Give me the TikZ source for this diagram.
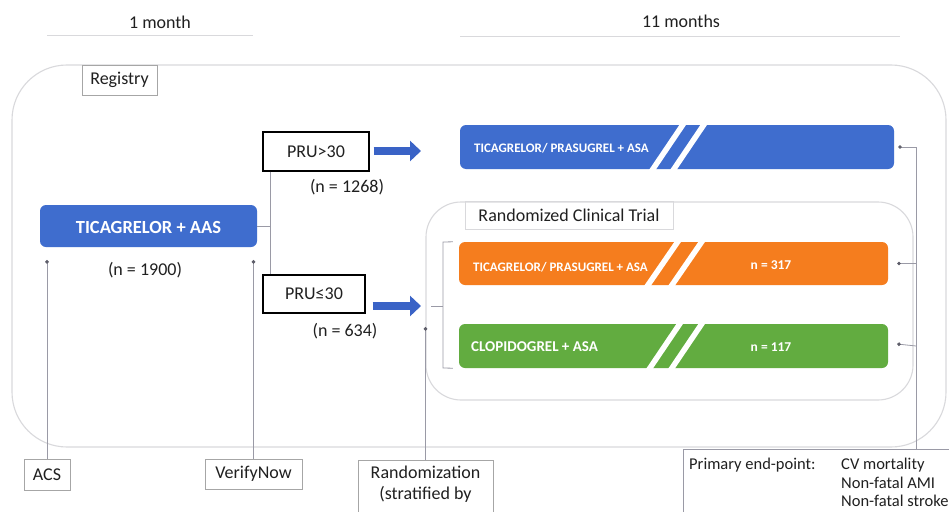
\documentclass[tikz,border=0pt]{standalone}
\usepackage{fontspec}
\setmainfont{Carlito}
\usetikzlibrary{arrows.meta,calc}
\definecolor{barblue}{HTML}{3F6DCE}
\definecolor{arrowblue}{HTML}{3A63C6}
\definecolor{barorange}{HTML}{F57D1E}
\definecolor{bargreen}{HTML}{62AC40}
\definecolor{framegray}{HTML}{D9D9DC}
\definecolor{labgray}{HTML}{A6A6A6}
\definecolor{conngray}{HTML}{9A9AA6}
\definecolor{dotgray}{HTML}{5E5E6A}
\definecolor{textgray}{HTML}{202020}
\tikzset{
  fs/.style={font=\fontsize{#1}{#1}\selectfont},
  frame/.style={draw=framegray, line width=1.1pt},
  lbox/.style={draw=labgray, line width=0.6pt, inner sep=0pt, text=textgray},
  prubox/.style={draw=black, line width=1.2pt, inner sep=0pt, text=textgray},
  bar/.style={rounded corners=6pt, inner sep=0pt, draw=none},
  bartext/.style={text=white, font=\bfseries\fontsize{#1}{#1}\selectfont, inner sep=0pt},
  slash/.style={draw=white, line width=5.5pt},
  conn/.style={draw=conngray, line width=0.8pt},
  dotend/.style={conn, -{Circle[length=3.6pt, fill=dotgray, color=dotgray]}},
  bigarrow/.style={draw=arrowblue, line width=7.5pt, -{Triangle[length=11pt, width=20pt]}},
  plain/.style={text=textgray, inner sep=0pt},
}
\begin{document}
\begin{tikzpicture}[x=1pt, y=-1pt, fs=18]
\clip (0,0) rectangle (949,511);
\fill[white] (0,0) rectangle (949,511);

% timeline
\node[plain] (t1) at (160,22) {1 month};
\node[plain] (t11) at (681,21) {11 months};
\draw[draw=framegray, line width=1pt] (47,36) -- (253,36);
\draw[draw=framegray, line width=1pt] (460,37) -- (900,37);

% registry frame
\draw[frame, rounded corners=55pt] (12,65) rectangle (946,447);
\node[lbox, minimum width=75pt, minimum height=30pt] (reg) at (119.5,80) {Registry};

% RCT frame
\draw[frame, rounded corners=35pt] (426,202) rectangle (913,400);
\node[draw=framegray, line width=0.6pt, minimum width=208pt, minimum height=28pt, inner sep=0pt, text=textgray] (rct) at (569,215) {Randomized Clinical Trial};

% main nodes
\node[bar, fill=barblue, minimum width=217pt, minimum height=42pt] (tic) at (148.5,226) {};
\node[bartext=18.5] (tictext) at (148.5,227) {TICAGRELOR + AAS};
\node[plain] (n1900) at (145,270) {(n = 1900)};

\node[prubox, minimum width=106pt, minimum height=39pt] (pru1) at (316,151.5) {PRU>30};
\node[plain] (n1268) at (347,187) {(n = 1268)};
\node[prubox, minimum width=102pt, minimum height=38pt] (pru2) at (314,294) {PRU≤30};
\node[plain] (n634) at (345,331) {(n = 634)};

% bars
\node[bar, fill=barblue, minimum width=434pt, minimum height=44pt] (bbar) at (677,147) {};
\node[bar, fill=barorange, minimum width=429pt, minimum height=43pt] (obar) at (673.5,263.5) {};
\node[bar, fill=bargreen, minimum width=429pt, minimum height=44pt] (gbar) at (673.5,346) {};

\foreach \b/\o/\p in {bbar/223/244, obar/219/243, gbar/221/243}{
  \draw[slash] ($(\b.north west)+(\o+2,-3)$) -- ($(\b.south west)+(\o-32,3)$);
  \draw[slash] ($(\b.north west)+(\p+2,-3)$) -- ($(\b.south west)+(\p-32,3)$);
}

\node[bartext=13, anchor=west] (btext) at (474,148) {TICAGRELOR/ PRASUGREL + ASA};
\node[bartext=13, anchor=west] (otext) at (473,267) {TICAGRELOR/ PRASUGREL + ASA};
\node[bartext=13.5] (on) at (771,265) {n = 317};
\node[bartext=15, anchor=west] (gtext) at (471,347) {CLOPIDOGREL + ASA};
\node[bartext=13.5] (gn) at (771,347) {n = 117};

% bottom label boxes
\node[lbox, minimum width=46pt, minimum height=31pt] (acs) at (47,474.5) {ACS};
\node[lbox, minimum width=97pt, minimum height=30pt] (ver) at (253.5,474) {VerifyNow};
\node[lbox, anchor=north, minimum width=135pt, inner ysep=6pt, align=center, font=\fontsize{18}{21}\selectfont] (rand) at (425.5,460) {Randomization\\(stratified by\\\strut};

% primary end point
\node[draw=conngray, line width=0.8pt, anchor=north west, minimum width=290pt, minimum height=90pt, inner sep=0pt] (pe) at (683,449) {};
\node[plain, anchor=west, fs=16.5] (pel) at (689,465) {Primary end-point:};
\node[plain, anchor=west, fs=16.5] (pe1) at (841,465) {CV mortality};
\node[plain, anchor=west, fs=16.5] (pe2) at (841,483) {Non-fatal AMI};
\node[plain, anchor=west, fs=16.5] (pe3) at (841,501) {Non-fatal stroke};

% connectors left
\coordinate (acsend) at (47,260);
\coordinate (verend) at (253.5,260);
\coordinate (randend) at (425.5,327);
\draw[dotend] (acs.north) -- (acsend);
\draw[dotend] (ver.north) -- (verend);
\draw[dotend] (rand.north) -- (randend);

\coordinate (sp) at (270,226);
\draw[conn] (tic.east) -- (sp);
\draw[conn] (sp |- pru1.south) -- (sp |- pru2.north);

% big arrows
\coordinate (a1) at (421,151);
\coordinate (a2) at (421,306);
\draw[bigarrow] ($(pru1.east)+(4,-0.5)$) -- (a1);
\draw[bigarrow] ($(pru2.east)+(7,12)$) -- (a2);

% bracket
\coordinate (brt) at (443,242);
\coordinate (brb) at (443,368);
\coordinate (brm) at (431,306);
\draw[conn] ($(obar.north west)+(-6,0)$) -- (brt) -- (brb) -- ($(gbar.south west)+(-6,0)$);
\draw[conn] (brm) -- (brm -| brt);

% right connectors
\coordinate (rt) at (916,147);
\draw[conn] (rt |- pe.north) -- (rt);
\draw[dotend] (rt) -- ($(bbar.east)+(4,0)$);
\draw[dotend] (rt |- obar.east) -- ($(obar.east)+(9,0)$);
\draw[dotend] (rt |- gbar.east) -- ($(gbar.east)+(9,-2)$);
\end{tikzpicture}
\end{document}
